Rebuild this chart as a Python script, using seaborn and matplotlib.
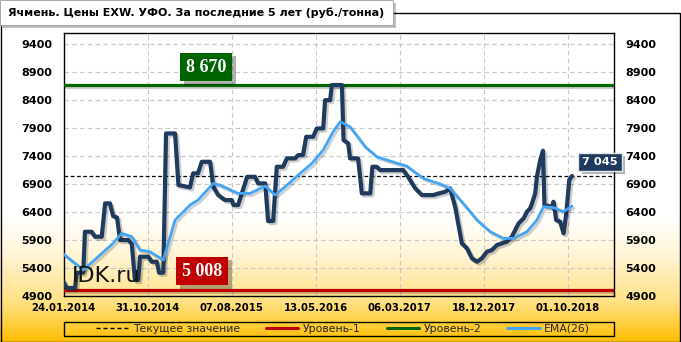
import numpy as np
import pandas as pd
import matplotlib
matplotlib.use("Agg")
import matplotlib.pyplot as plt
import seaborn as sns
from matplotlib import patheffects as pe
from matplotlib.lines import Line2D
from matplotlib.patches import Rectangle

# ---------------- data ----------------
title = "Ячмень. Цены EXW. УФО. За последние 5 лет (руб./тонна)"
x_tick_pos = [0, 40, 80, 120, 160, 200, 240]
x_tick_labels = ["24.01.2014", "31.10.2014", "07.08.2015", "13.05.2016",
                 "06.03.2017", "18.12.2017", "01.10.2018"]
y_ticks = [4900, 5400, 5900, 6400, 6900, 7400, 7900, 8400, 8900, 9400]

price_idx = [0, 1.5, 5.5, 6.3, 9.4, 10.2, 13.4, 15, 18.2, 19.8, 22.1, 23.6, 25.5, 26.9,
             30.9, 32.5, 34, 35.6, 36.4, 40.4, 42, 44.4, 45.5, 47.5, 48.8, 53.1, 54.7,
             60.2, 61.7, 64, 65.8, 69.8, 71.3, 73.6, 76.9, 80.1, 80.9, 83.1, 87.4, 91.2,
             92.6, 96, 97.4, 99.8, 101.5, 104.5, 106.3, 110.2, 111.7, 114, 115.5, 118.8,
             120.6, 123.6, 124.5, 126.9, 127.7, 132.5, 133.3, 135.5, 136.4, 140.2, 142,
             146, 147, 149.1, 150.7, 161.7, 164, 167.4, 170.6, 176, 178.3, 181.7, 184,
             186.4, 189.6, 192, 194.4, 196.8, 199.1, 201.5, 203.9, 206.3, 208.7, 211,
             213.4, 215, 216.6, 219, 220.6, 222.1, 223, 224.5, 225.3, 226.9, 228.2,
             228.9, 232.5, 233.2, 234.5, 236.4, 238, 239.3, 240.7, 242]
price_val = [5155, 5043, 5043, 5316, 5316, 6048, 6048, 5960, 5960, 6555, 6555, 6330, 6300, 5900,
             5900, 5830, 5186, 5186, 5602, 5602, 5512, 5512, 5316, 5316, 7805, 7805, 6882,
             6841, 7091, 7091, 7298, 7298, 6852, 6704, 6614, 6614, 6525, 6525, 7030, 7030,
             6912, 6912, 6240, 6240, 7209, 7209, 7359, 7359, 7418, 7418, 7745, 7745,
             7895, 7895, 8400, 8400, 8670, 8670, 7686, 7627, 7359, 7359, 6734,
             6734, 7209, 7209, 7150, 7150, 7030, 6823, 6704, 6704, 6730, 6763, 6823,
             6495, 5841, 5752, 5573, 5512, 5573, 5691, 5721, 5811, 5841, 5870,
             5960, 6079, 6198, 6288, 6407, 6466, 6555, 6734, 7030, 7329, 7495,
             6525, 6495, 6584, 6257, 6227, 6020, 6377, 6971, 7045]

ema_idx = [0, 9.4, 17.4, 23.6, 27.7, 32.5, 36.4, 41.2, 47.5, 53.1, 60.2, 64, 71.3, 74.5,
           83.1, 88.8, 96, 100.7, 105.5, 111.7, 118.2, 123.6, 128.3, 131.7, 136.4, 143.6,
           149.1, 155.5, 163.4, 171.2, 179.4, 184, 190.2, 196.8, 203.1, 209.4, 214.2,
           220.6, 225.3, 228.5, 233.2, 238, 242]
ema_val = [5650, 5364, 5632, 5841, 6020, 5960, 5721, 5690, 5543, 6257, 6525, 6614, 6912, 6880,
           6734, 6734, 6864, 6704, 6852, 7061, 7270, 7507, 7834, 8013, 7923, 7566,
           7388, 7311, 7221, 7002, 6900, 6823, 6555, 6257, 6048, 5930, 5930,
           6048, 6257, 6495, 6480, 6407, 6507]

current_value = 7045
level1 = 5008
level2 = 8670
legend_labels = ["Текущее значение", "Уровень-1", "Уровень-2", "EMA(26)"]

# ---------------- style ----------------
sns.set_theme(style="white")
plt.rcParams["font.family"] = ["DejaVu Sans"]

C_PRICE = "#1F3A5C"
C_EMA = "#45A5F5"
C_L1 = "#C00000"
C_L2 = "#006400"

W, H = 681, 342
fig = plt.figure(figsize=(W / 100, H / 100), dpi=100)

# background gradient + frame + title box (pixel coordinates)
bg = fig.add_axes([0, 0, 1, 1], zorder=-10)
rows = np.arange(H)
sy = [0, 215, 250, 300, 342]
g = np.interp(rows, sy, [255, 255, 246, 226, 190])
b = np.interp(rows, sy, [255, 255, 220, 135, 0])
img = np.zeros((H, 1, 3))
img[:, 0, 0] = 1.0
img[:, 0, 1] = g / 255
img[:, 0, 2] = b / 255
bg.imshow(img, aspect="auto", extent=(0, W, H, 0), interpolation="bilinear")
bg.set_xlim(0, W)
bg.set_ylim(H, 0)
bg.axis("off")
bg.add_patch(Rectangle((0.5, 13), W - 1.5, H - 13.5, fill=False, ec="black", lw=1.0))
bg.add_patch(Rectangle((2.5, 2.5), 393, 25, fc="#00000040", ec="none"))
bg.add_patch(Rectangle((0, 0), 393, 25, fc="white", ec="#9a9a9a", lw=0.6))
bg.text(8, 13, title, fontsize=8.0, fontweight="bold", ha="left", va="center", color="black")
# legend frame
bg.add_patch(Rectangle((63.5, 321.5), 550.5, 14.5, fill=False, ec="black", lw=1.0))

# main axes
ax = fig.add_axes([63.5 / W, 1 - 296 / H, (614 - 63.5) / W, (296 - 33) / H])
ax.set_facecolor("none")

lvl_shadow = [pe.SimpleLineShadow(offset=(1.5, -1.5), shadow_color="black", alpha=0.2), pe.Normal()]

# levels
ax.axhline(level2, color=C_L2, lw=2.3, zorder=3, path_effects=lvl_shadow)
ax.axhline(level1, color=C_L1, lw=2.3, zorder=3, path_effects=lvl_shadow)
ax.axhline(current_value, color="black", lw=0.9, ls=(0, (3, 2)), zorder=3)

df_price = pd.DataFrame({"idx": price_idx, "val": price_val})
df_ema = pd.DataFrame({"idx": ema_idx, "val": ema_val})
sns.lineplot(data=df_price, x="idx", y="val", ax=ax, color=C_PRICE, lw=3.0, sort=False,
             zorder=5, path_effects=[pe.SimpleLineShadow(offset=(1.5, -1.5), shadow_color="black", alpha=0.2), pe.Normal()])
sns.lineplot(data=df_ema, x="idx", y="val", ax=ax, color=C_EMA, lw=2.0, sort=False,
             zorder=6, path_effects=[pe.SimpleLineShadow(offset=(1.5, -1.5), shadow_color="black", alpha=0.18), pe.Normal()])

ax.set_xlim(0, 262)
ax.set_ylim(4900, 9600)
ax.set_xticks(x_tick_pos)
ax.set_xticklabels(x_tick_labels)
ax.set_yticks(y_ticks)
ax.set_yticklabels([str(v) for v in y_ticks])
ax.set_xlabel("")
ax.set_ylabel("")
ax.grid(True, color="#C8C8C8", lw=0.8, ls=(0, (4, 3)))
ax.set_axisbelow(True)
for s in ax.spines.values():
    s.set_color("black")
    s.set_linewidth(1.0)
ax.tick_params(axis="y", length=0, labelsize=8, labelright=True, pad=8)
ax.tick_params(axis="x", length=0, labelsize=7.3, pad=5)
for t in ax.get_yticklabels() + ax.get_xticklabels():
    t.set_fontweight("bold")
    t.set_color("black")


def label_box(x, y, s, fc, family, size, ec="none", pad=0.25):
    t = ax.text(x, y, s, ha="center", va="center", fontsize=size, fontweight="bold",
                family=family, color="white", zorder=9,
                bbox=dict(boxstyle=f"square,pad={pad}", fc=fc, ec=ec, lw=1.0))
    t.get_bbox_patch().set_path_effects(
        [pe.withSimplePatchShadow(offset=(2.5, -2.5), shadow_rgbFace="black", alpha=0.3)])


label_box(67.9, 8990, "8 670", C_L2, ["Liberation Serif"], 13, pad=0.32)
label_box(66.0, 5346, "5 008", C_L1, ["Liberation Serif"], 13, pad=0.32)
label_box(255.3, 7298, "7 045", C_PRICE, ["DejaVu Sans"], 8.2, ec="#dfe6ee", pad=0.35)

fig.text(72 / W, 1 - 282 / H, "IDK.ru", fontsize=16, color="#151515", ha="left", va="baseline")

handles = [Line2D([], [], color="black", lw=1.0, ls=(0, (3, 2))),
           Line2D([], [], color=C_L1, lw=2.2),
           Line2D([], [], color=C_L2, lw=2.2),
           Line2D([], [], color=C_EMA, lw=2.2)]
leg = fig.legend(handles, legend_labels, loc="center",
                 bbox_to_anchor=(343 / W, 1 - 328.7 / H),
                 ncol=4, fontsize=7.8, frameon=False, borderpad=0.0,
                 handlelength=3.0, handletextpad=0.4, borderaxespad=0, columnspacing=2.4)

fig.savefig("out.png", dpi=100)
